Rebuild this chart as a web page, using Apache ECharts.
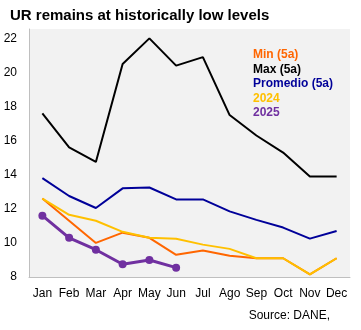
<!DOCTYPE html>
<html>
<head>
<meta charset="utf-8">
<style>
html,body{margin:0;padding:0;background:#fff;}
#c{width:361px;height:330px;}
</style>
<script src="https://cdn.jsdelivr.net/npm/echarts@6/dist/echarts.min.js"></script>
</head>
<body>
<div id="c"></div>
<script>
var categories = ['Jan','Feb','Mar','Apr','May','Jun','Jul','Ago','Sep','Oct','Nov','Dec'];
var minVals  = [12.6, 11.3, 10.0, 10.6, 10.3, 9.3, 9.55, 9.25, 9.1, 9.1, 8.15, 9.1];
var maxVals  = [17.6, 15.6, 14.75, 20.5, 22.0, 20.4, 20.9, 17.5, 16.3, 15.3, 13.9, 13.9];
var promVals = [13.8, 12.75, 12.05, 13.2, 13.25, 12.55, 12.55, 11.85, 11.35, 10.9, 10.25, 10.7];
var y2024    = [12.6, 11.65, 11.3, 10.65, 10.3, 10.25, 9.9, 9.65, 9.1, 9.1, 8.15, 9.1];
var y2025    = [11.6, 10.3, 9.6, 8.75, 9.0, 8.55];
var yTicks   = [8, 10, 12, 14, 16, 18, 20, 22];

var FONT = 'Liberation Sans, Arial, sans-serif';
var chart = echarts.init(document.getElementById('c'), null, {renderer:'canvas'});

function line(name, data, color, width, extra){
  var s = {
    name: name, type: 'line', data: data, symbol: 'none', smooth: false,
    lineStyle: {color: color, width: width}, itemStyle: {color: color},
    animation: false, z: 2
  };
  if (extra) for (var k in extra) s[k] = extra[k];
  return s;
}

chart.setOption({
  animation: false,
  backgroundColor: '#ffffff',
  title: {
    text: 'UR remains at historically low levels',
    left: 5, top: 3,
    textStyle: {fontFamily: FONT, fontSize: 15, fontWeight: 'bold', color: '#000'}
  },
  graphic: [{
    type: 'text', right: 31, top: 310,
    style: {text: 'Source: DANE,', font: '12px ' + FONT, fill: '#000'}
  }],
  legend: {
    orient: 'vertical', left: 248, top: 49, icon: 'none', itemWidth: 0, itemHeight: 12,
    itemGap: 2.5, padding: 0,
    selectedMode: false,
    textStyle: {fontFamily: FONT, fontSize: 12, fontWeight: 'bold'},
    data: [
      {name: 'Min (5a)', textStyle: {color: '#FF6600'}},
      {name: 'Max (5a)', textStyle: {color: '#000000'}},
      {name: 'Promedio (5a)', textStyle: {color: '#000099'}},
      {name: '2024', textStyle: {color: '#FFC000'}},
      {name: '2025', textStyle: {color: '#7030A0'}}
    ]
  },
  grid: {left: 29, right: 11, top: 29, bottom: 53, show: true, backgroundColor: '#F2F2F2', borderWidth: 0},
  xAxis: {
    type: 'category', data: categories, boundaryGap: true,
    axisLine: {lineStyle: {color: '#BFBFBF', width: 1}},
    axisTick: {show: false},
    axisLabel: {fontFamily: FONT, fontSize: 12, color: '#000', margin: 11, interval: 0}
  },
  yAxis: {
    type: 'value', min: 8, max: 22.55, interval: 2,
    axisLine: {show: true, lineStyle: {color: '#BFBFBF', width: 1}},
    axisTick: {show: false},
    splitLine: {show: false},
    axisLabel: {
      fontFamily: FONT, fontSize: 12, color: '#000', margin: 12, showMaxLabel: false,
      formatter: function(v){ return yTicks.indexOf(v) >= 0 ? String(v) : ''; }
    }
  },
  series: [
    line('Min (5a)', minVals, '#FF6600', 2),
    line('Max (5a)', maxVals, '#000000', 2),
    line('Promedio (5a)', promVals, '#000099', 2),
    line('2024', y2024, '#FFC000', 2),
    line('2025', y2025, '#7030A0', 3, {symbol: 'circle', symbolSize: 8, z: 3})
  ]
});
</script>
</body>
</html>
